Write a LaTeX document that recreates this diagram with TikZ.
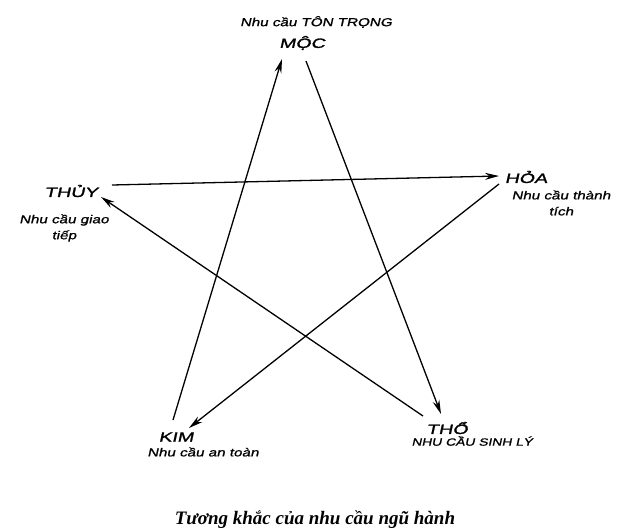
\documentclass[tikz,border=0pt]{standalone}
\usepackage{fontspec}
\setmainfont{Liberation Serif}
\setsansfont{Liberation Sans}
\newfontfamily\handfont[FakeStretch=1.32,FakeSlant=0.22,FakeBold=1.2]{Liberation Sans}
\newfontfamily\elemfont[FakeStretch=1.45,FakeSlant=0.22,FakeBold=1.5]{Liberation Sans}
\usetikzlibrary{arrows.meta,positioning,calc}

\begin{document}
\begin{tikzpicture}[
    x=1pt, y=-1pt,
    element/.style={font=\elemfont\fontsize{13.5}{13.5}\selectfont, inner sep=1pt},
    need/.style={font=\handfont\fontsize{11.5}{16}\selectfont, inner sep=1pt, align=center},
    khac/.style={-{Stealth[length=14pt,width=7pt]}, line width=1.3pt},
    >=Stealth
]
\useasboundingbox (0,0) rectangle (629,531);
% five elements
\node[element] (moc) at (302,43) {MỘC};
\node[element] (thuy) at (71,191) {THỦY};
\node[element] (hoa) at (526,177) {HỎA};
\node[element] (kim) at (176,437) {KIM};
\node[element] (tho) at (447,428) {THỔ};

% needs
\node[need] (mocneed) at (316,22) {Nhu cầu TÔN TRỌNG};
\node[need] (thuyneed) at (64,228) {Nhu cầu giao\\tiếp};
\node[need] (hoaneed) at (561,203) {Nhu cầu thành\\tích};
\node[need] (kimneed) at (203,452) {Nhu cầu an toàn};
\node[need, font=\handfont\fontsize{10.5}{12}\selectfont] (thoneed) at (472,441) {NHU CẦU SINH LÝ};

% overcoming cycle
\draw[khac] ($(kim)+(-3,-17)$) -- ($(moc)+(-20,16)$);
\draw[khac] ($(moc)+(4,18)$) -- ($(tho)+(-6,-14)$);
\draw[khac] ($(thuy)+(41,-6)$) -- ($(hoa)+(-27,-1)$);
\draw[khac] ($(hoa)+(-27,7)$) -- ($(kim)+(13,-9)$);
\draw[khac] ($(tho)+(-24,-12)$) -- ($(thuy)+(30,6)$);

\node[font=\rmfamily\bfseries\itshape\fontsize{19}{19}\selectfont] (caption) at (315,520) {Tương khắc của nhu cầu ngũ hành};
\end{tikzpicture}
\end{document}
